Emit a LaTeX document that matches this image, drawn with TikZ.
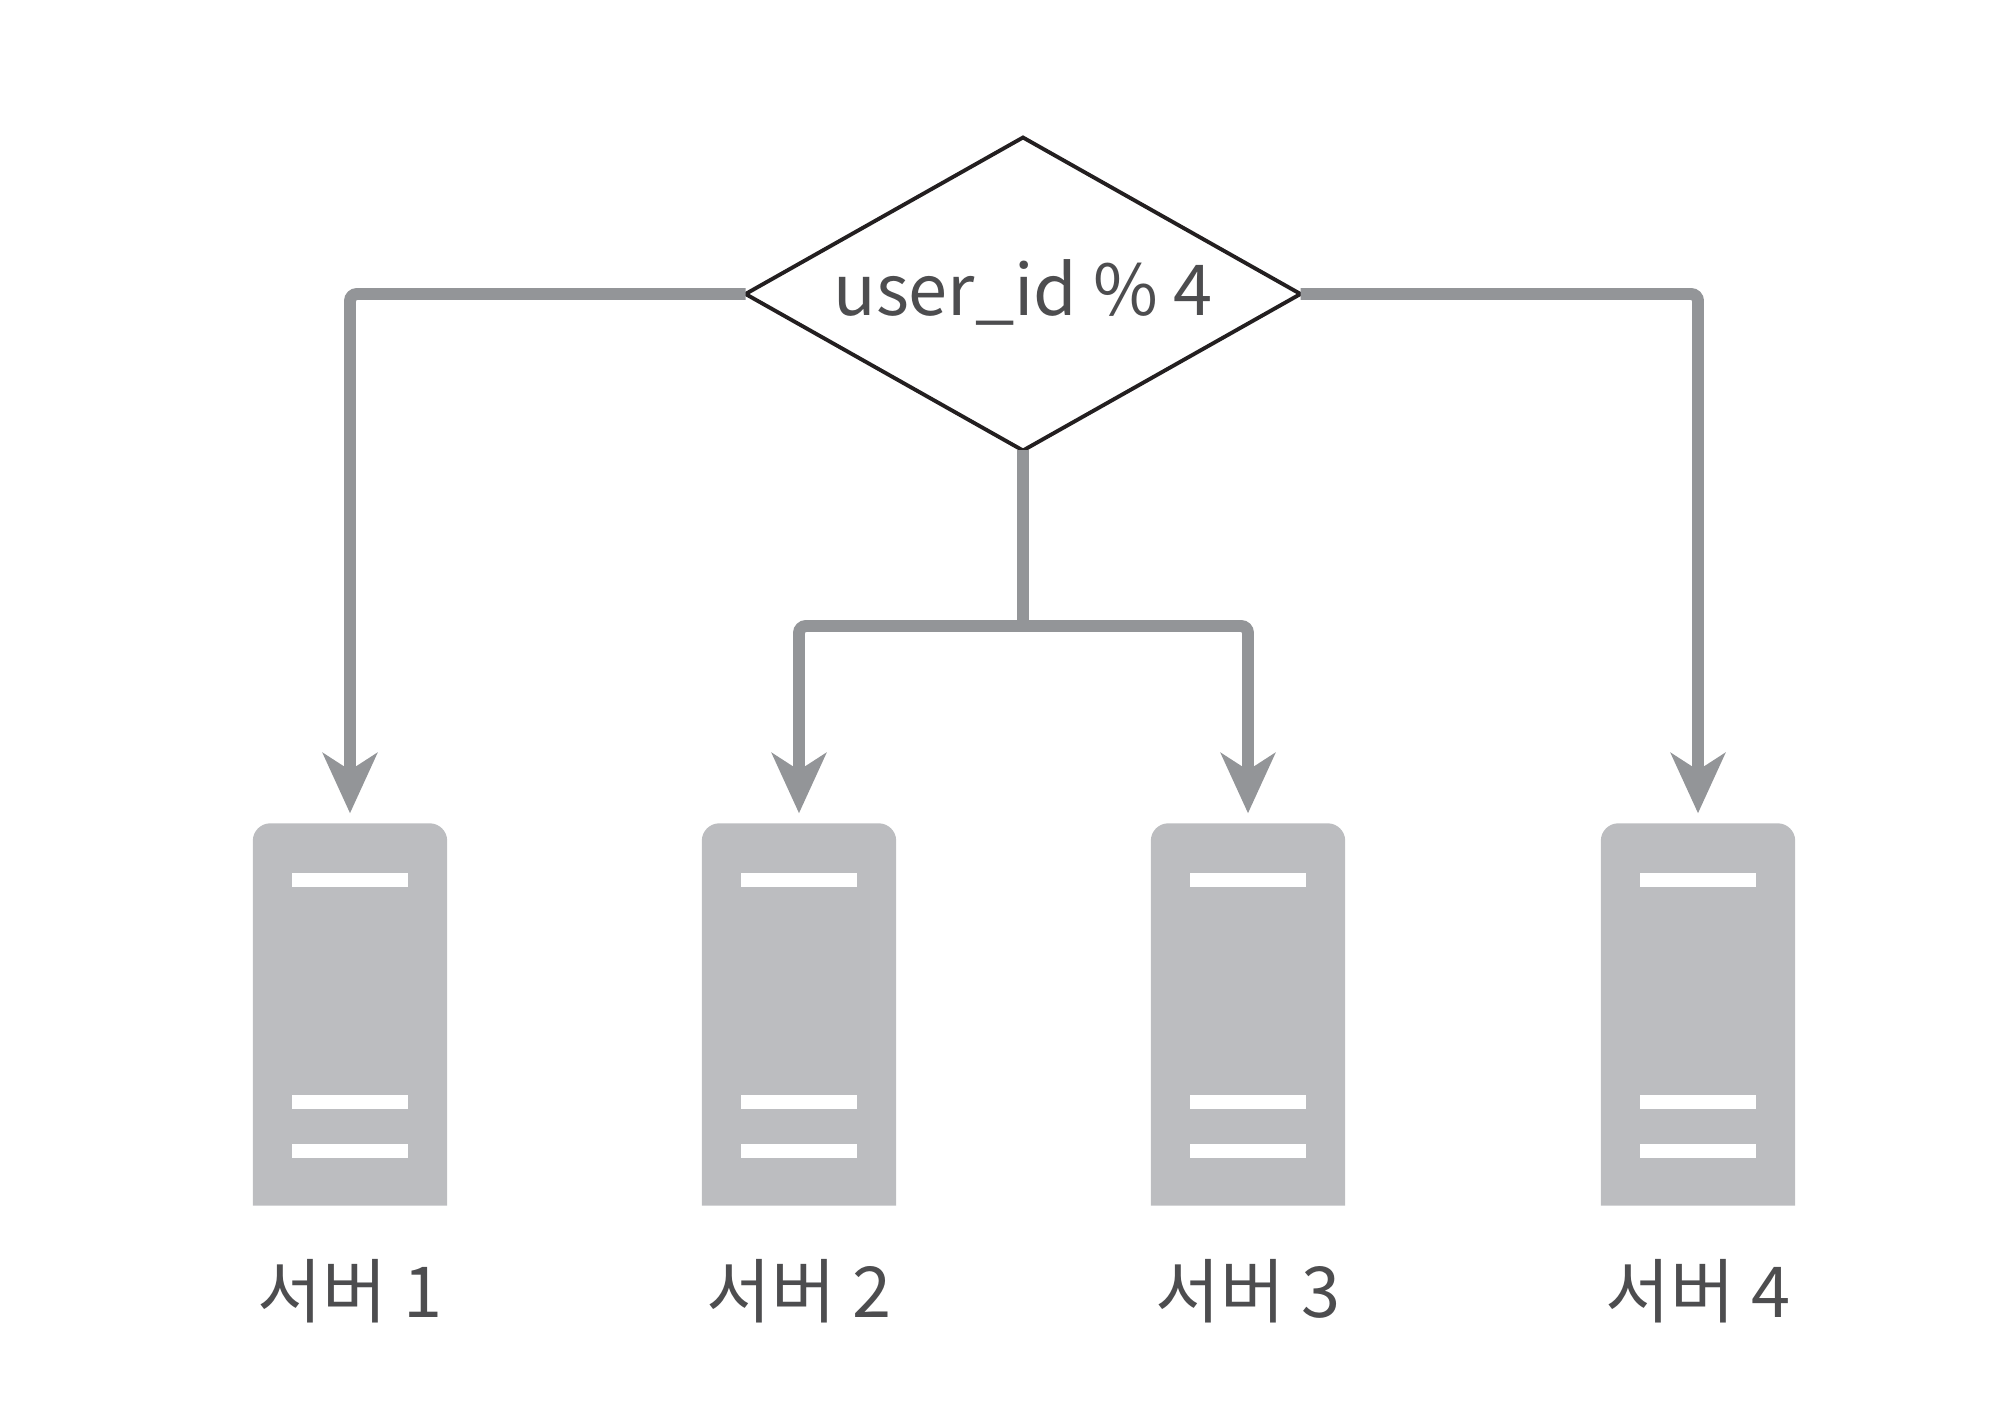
\documentclass[tikz,border=0pt]{standalone}
\usepackage{fontspec}
\setmainfont{Noto Sans CJK KR}
\usetikzlibrary{arrows.meta, calc, shapes.geometric}
\definecolor{linkgray}{HTML}{939598}
\definecolor{srvgray}{HTML}{BCBDC0}
\definecolor{ink}{HTML}{231F20}
\definecolor{subink}{HTML}{4D4D4F}

\begin{document}
\begin{tikzpicture}[
    arr/.style={line width=3.4pt, linkgray, rounded corners=2pt},
    tip/.style={-{Stealth[length=0.6cm, width=0.54cm, inset=0.17cm]}, shorten >=0.1cm},
    every node/.style={align=center},
    % Modulo diamond
    modbox/.style={diamond, draw=ink, line width=1.1pt, fill=white, shape aspect=1.773,
                   minimum width=5.55cm, minimum height=3.13cm, inner sep=0pt, outer sep=0pt,
                   font=\fontsize{20}{24}\selectfont, text=subink},
    % Server body
    srvbox/.style={rectangle, minimum width=1.93cm, minimum height=3.81cm, inner sep=0pt},
    % White slot on a server
    slot/.style={rectangle, fill=white, minimum width=1.16cm, minimum height=0.14cm, inner sep=0pt},
    srvlabel/.style={font=\fontsize{20}{24}\selectfont, text=subink}
]
\useasboundingbox (0, 0) rectangle (20, 14.05);

% ========== Servers ==========
\node[srvbox] at (3.50, 3.905) (srv1) {};
\node[srvbox] at (7.99, 3.905) (srv2) {};
\node[srvbox] at (12.48, 3.905) (srv3) {};
\node[srvbox] at (16.98, 3.905) (srv4) {};

\fill[srvgray] (srv1.south west) [rounded corners=5pt] -- (srv1.north west) -- (srv1.north east) [sharp corners] -- (srv1.south east) -- cycle;
\fill[srvgray] (srv2.south west) [rounded corners=5pt] -- (srv2.north west) -- (srv2.north east) [sharp corners] -- (srv2.south east) -- cycle;
\fill[srvgray] (srv3.south west) [rounded corners=5pt] -- (srv3.north west) -- (srv3.north east) [sharp corners] -- (srv3.south east) -- cycle;
\fill[srvgray] (srv4.south west) [rounded corners=5pt] -- (srv4.north west) -- (srv4.north east) [sharp corners] -- (srv4.south east) -- cycle;

% --- Slots ---
\node[slot] at ([yshift=-0.57cm]srv1.north) (slot1a) {};
\node[slot] at ([yshift=-2.79cm]srv1.north) (slot1b) {};
\node[slot] at ([yshift=-3.28cm]srv1.north) (slot1c) {};
\node[slot] at ([yshift=-0.57cm]srv2.north) (slot2a) {};
\node[slot] at ([yshift=-2.79cm]srv2.north) (slot2b) {};
\node[slot] at ([yshift=-3.28cm]srv2.north) (slot2c) {};
\node[slot] at ([yshift=-0.57cm]srv3.north) (slot3a) {};
\node[slot] at ([yshift=-2.79cm]srv3.north) (slot3b) {};
\node[slot] at ([yshift=-3.28cm]srv3.north) (slot3c) {};
\node[slot] at ([yshift=-0.57cm]srv4.north) (slot4a) {};
\node[slot] at ([yshift=-2.79cm]srv4.north) (slot4b) {};
\node[slot] at ([yshift=-3.28cm]srv4.north) (slot4c) {};

% --- Labels ---
\node[srvlabel] at (3.50, 1.14) (name1) {서버 1};
\node[srvlabel] at (7.99, 1.14) (name2) {서버 2};
\node[srvlabel] at (12.48, 1.14) (name3) {서버 3};
\node[srvlabel] at (16.98, 1.14) (name4) {서버 4};

% ========== Diamond ==========
\coordinate (split) at (10.23, 7.79);
\node[modbox] at (10.23, 11.11) (mod) {\raisebox{0.13cm}{user\_id \% 4}};

% ========== ARROWS ==========
\draw[arr, tip] (mod.west) -| (srv1.north);
\draw[arr, tip] (mod.east) -| (srv4.north);
\draw[arr] (mod.south) -- (split);
\draw[arr, tip] (split) -| (srv2.north);
\draw[arr, tip] (split) -| (srv3.north);

\end{tikzpicture}
\end{document}
